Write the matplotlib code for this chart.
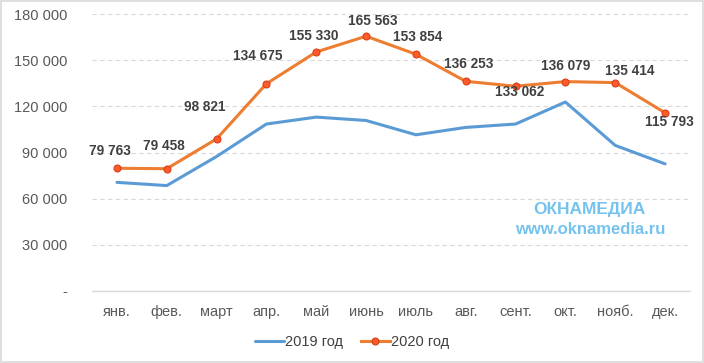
import matplotlib.pyplot as plt
from matplotlib.patches import Rectangle
from matplotlib.ticker import FixedLocator

plt.rcParams["font.family"] = ["Liberation Sans", "DejaVu Sans"]

months = ["янв.", "фев.", "март", "апр.", "май", "июнь",
          "июль", "авг.", "сент.", "окт.", "нояб.", "дек."]
sales_2019 = [70600, 68500, 87400, 108500, 113000, 110800,
              101500, 106300, 108500, 122800, 94600, 82600]
sales_2020 = [79763, 79458, 98821, 134675, 155330, 165563,
              153854, 136253, 133062, 136079, 135414, 115793]
y_ticks = [0, 30000, 60000, 90000, 120000, 150000, 180000]
y_labels = ["-", "30 000", "60 000", "90 000", "120 000", "150 000", "180 000"]

# label offsets in pixels (dx, dy), dy positive = up
label_offsets = [(-7, 17), (-3, 23), (-12, 32), (-9, 28), (-3, 16), (7, 15),
                 (2, 17), (3, 17), (4, -6), (0, 16), (14, 12), (4, -9)]

fig = plt.figure(figsize=(7.04, 3.63), dpi=100)
ax = fig.add_axes([92 / 704, 1 - 291 / 363, (690 - 92) / 704, (291 - 14) / 363])

x = list(range(len(months)))
ax.plot(x, sales_2019, color="#5B9BD5", lw=2.2, label="2019 год", solid_capstyle="round")
ax.plot(x, sales_2020, color="#ED7D31", lw=2.2, marker="o", markersize=5,
        markerfacecolor="#FF5A2A", markeredgecolor="#D8401C", markeredgewidth=0.8,
        label="2020 год")

for xi, v, (dx, dy) in zip(x, sales_2020, label_offsets):
    ax.annotate(f"{v:,}".replace(",", " "), (xi, v), xytext=(dx, dy),
                textcoords="offset pixels", ha="center", va="center",
                fontsize=9.8, fontweight="bold", color="#404040")

ax.set_xlim(-0.5, len(months) - 0.5)
ax.set_ylim(0, 180000)
ax.set_xticks(x)
ax.set_xticklabels(months)
ax.yaxis.set_major_locator(FixedLocator(y_ticks))
ax.set_yticklabels(y_labels)
ax.tick_params(axis="both", length=0, labelsize=10.5, labelcolor="#595959")
ax.tick_params(axis="y", pad=18)
ax.tick_params(axis="x", pad=10)
ax.grid(axis="y", color="#D9D9D9", ls=(0, (4, 3)), lw=0.8)
ax.set_axisbelow(True)
for s in ["top", "right", "left"]:
    ax.spines[s].set_visible(False)
ax.spines["bottom"].set_color("#D9D9D9")
ax.spines["bottom"].set_linewidth(1)

fig.legend(loc="center", bbox_to_anchor=(0.5, 1 - 342 / 363), ncol=2, frameon=False,
           fontsize=10.5, labelcolor="#404040", handlelength=2.0, handletextpad=0.1,
           columnspacing=1.2)

fig.text(589 / 704, 1 - 209 / 363, "ОКНАМЕДИА", ha="center", va="center",
         fontsize=12.5, fontweight="bold", color="#74C3EE")
fig.text(590 / 704, 1 - 229 / 363, "www.oknamedia.ru", ha="center", va="center",
         fontsize=12, fontweight="bold", color="#74C3EE")

fig.patches.append(Rectangle((0.001, 0.002), 0.997, 0.995, transform=fig.transFigure,
                             fill=False, edgecolor="#D9D9D9", lw=1.2))

fig.savefig("out.png", dpi=100)
